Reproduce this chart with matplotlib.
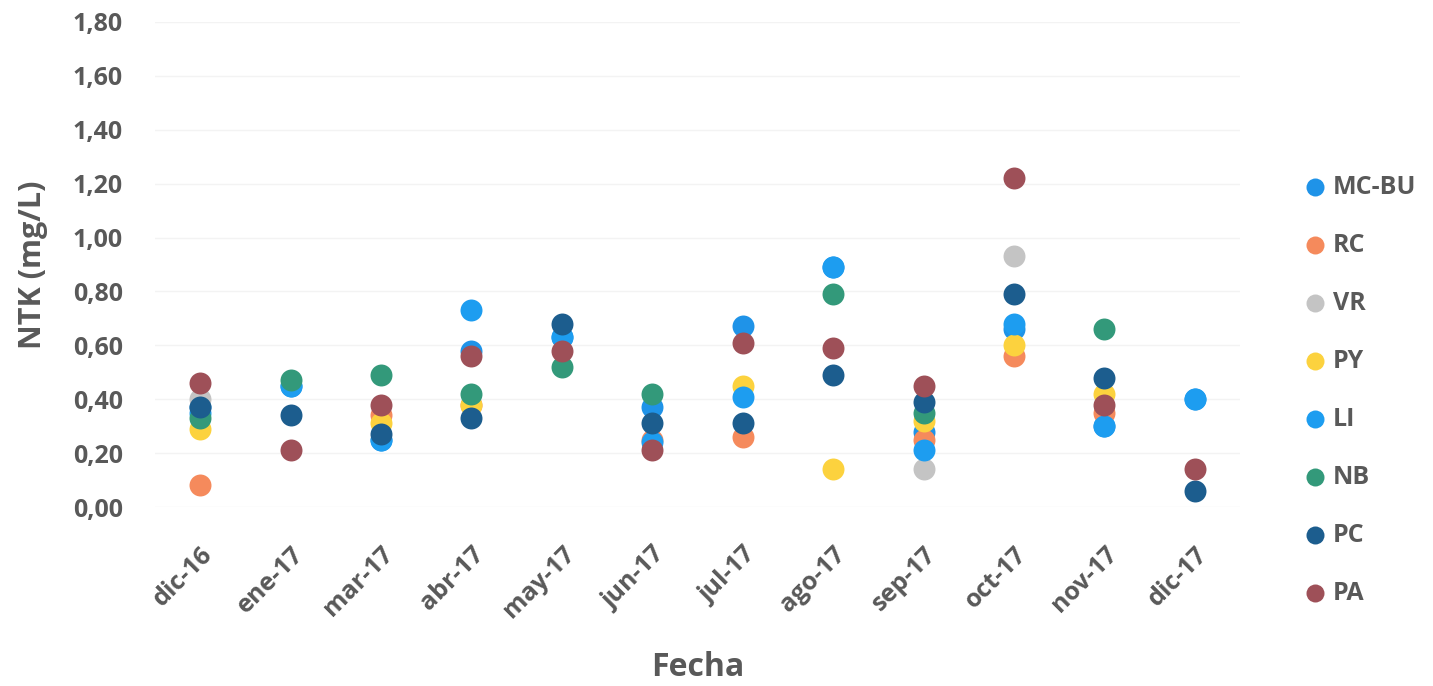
import numpy as np
import matplotlib
from matplotlib import pyplot as plt

nan = np.nan

fechas = ['dic-16', 'ene-17', 'mar-17', 'abr-17', 'may-17', 'jun-17',
          'jul-17', 'ago-17', 'sep-17', 'oct-17', 'nov-17', 'dic-17']

mc_bu = [0.37, 0.45, 0.25, 0.58, 0.63, 0.37, 0.67, 0.89, 0.28, 0.66, 0.30, 0.40]
rc    = [0.08, nan,  0.34, 0.38, nan,  0.25, 0.26, nan,  0.25, 0.56, 0.35, nan]
vr    = [0.40, nan,  nan,  nan,  nan,  nan,  nan,  nan,  0.14, 0.93, nan,  nan]
py    = [0.29, nan,  0.31, 0.38, nan,  nan,  0.45, 0.14, 0.32, 0.60, 0.42, nan]
li    = [0.35, 0.45, 0.25, 0.73, 0.63, 0.24, 0.41, 0.89, 0.21, 0.68, 0.30, 0.40]
nb    = [0.33, 0.47, 0.49, 0.42, 0.52, 0.42, nan,  0.79, 0.35, nan,  0.66, nan]
pc    = [0.37, 0.34, 0.27, 0.33, 0.68, 0.31, 0.31, 0.49, 0.39, 0.79, 0.48, 0.06]
pa    = [0.46, 0.21, 0.38, 0.56, 0.58, 0.21, 0.61, 0.59, 0.45, 1.22, 0.38, 0.14]

series = [
  ('MC-BU', mc_bu, '#1f93e8'),
  ('RC', rc, '#f58a5c'),
  ('VR', vr, '#c4c4c4'),
  ('PY', py, '#fcd23e'),
  ('LI', li, '#1d9df0'),
  ('NB', nb, '#33997a'),
  ('PC', pc, '#1c5d8e'),
  ('PA', pa, '#9e5058'),
]

matplotlib.rc('font', family=['Open Sans', 'DejaVu Sans'])
grey = '#595959'

fig = plt.figure(figsize=(14.33, 6.86), dpi=100)
ax = fig.add_axes([155 / 1433, 1 - 507 / 686, 1085 / 1433, 485 / 686])

x = np.arange(len(fechas))
for name, vals, col in series:
  ax.scatter(x, vals, s=250, color=col, label=name, zorder=3, linewidths=0)

ax.set_xlim(-0.5, len(fechas) - 0.5)
ax.set_ylim(0, 1.8)
ax.set_yticks(np.arange(0, 1.81, 0.2))
ax.set_yticklabels(['{:.2f}'.format(v).replace('.', ',') for v in np.arange(0, 1.81, 0.2)])
ax.set_xticks(x)
ax.set_xticklabels(fechas, rotation=45, ha='right', rotation_mode='anchor')
ax.tick_params(axis='both', length=0, labelsize=18, labelcolor=grey)
ax.tick_params(axis='y', pad=23)
ax.tick_params(axis='x', pad=25)
for lab in ax.get_xticklabels() + ax.get_yticklabels():
  lab.set_fontweight('bold')
ax.grid(axis='y', color='#f3f3f3', linewidth=1, zorder=0)
for s in ax.spines.values():
  s.set_visible(False)

ax.set_ylabel('NTK (mg/L)', fontsize=22, fontweight='bold', color=grey, labelpad=18)
ax.set_xlabel('Fecha', fontsize=23, fontweight='bold', color=grey, labelpad=20)

leg = fig.legend(loc='upper left', bbox_to_anchor=(1305 / 1433, 1 - 175 / 686),
                 frameon=False, fontsize=18, labelspacing=1.32, handlelength=0.8,
                 handletextpad=0.32, markerscale=0.82, borderpad=0, borderaxespad=0)
for t in leg.get_texts():
  t.set_color(grey)
  t.set_fontweight('bold')

plt.savefig('out.png', dpi=100)
